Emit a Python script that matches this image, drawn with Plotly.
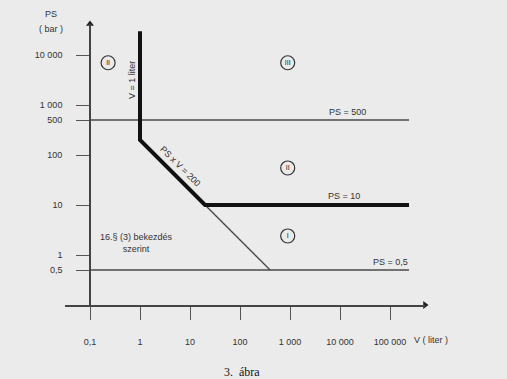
import math
import plotly.graph_objects as go

# ---- data ----
v_tick_vals = [0.1, 1, 10, 100, 1000, 10000, 100000]
v_tick_text = ["0,1", "1", "10", "100", "1 000", "10 000", "100 000"]
ps_tick_vals = [0.5, 1, 10, 100, 500, 1000, 10000]
ps_tick_text = ["0,5", "1", "10", "100", "500", "1 000", "10 000"]

# thick category boundary: V = 1 liter, PS x V = 200, PS = 10
boundary_v = [1, 1, 20, 240000]
boundary_ps = [30000, 200, 10, 10]
# thin continuation of PS x V = 200
diag_v = [20, 400]
diag_ps = [10, 0.5]
# PS = 500 and PS = 0,5 limits
limit_v = [0.1, 240000]
limit500_ps = [500, 500]
limit05_ps = [0.5, 0.5]

# category markers
cat_labels = ["II", "III", "II", "I"]
cat_v = [0.23, 900, 900, 900]
cat_ps = [7000, 7000, 55, 2.4]

x_range_log = [-1.5, 5.7]
y_range_log = [-1, 4.62]

BG = "#ebebeb"
TXT = "#333333"
FONT = "Arial, Liberation Sans, sans-serif"

fig = go.Figure()

thin = dict(color="#4a4a4a", width=1.4)
fig.add_trace(go.Scatter(x=limit_v, y=limit500_ps, mode="lines", line=thin, hoverinfo="skip"))
fig.add_trace(go.Scatter(x=limit_v, y=limit05_ps, mode="lines", line=thin, hoverinfo="skip"))
fig.add_trace(go.Scatter(x=diag_v, y=diag_ps, mode="lines", line=thin, hoverinfo="skip"))
fig.add_trace(go.Scatter(x=boundary_v, y=boundary_ps, mode="lines",
                         line=dict(color="#111111", width=4), hoverinfo="skip"))

# circled category numerals
fig.add_trace(go.Scatter(x=cat_v, y=cat_ps, mode="markers+text", text=cat_labels,
                         textposition="middle center",
                         textfont=dict(family=FONT, size=7, color="#222222"),
                         marker=dict(symbol="circle-open", size=14,
                                     line=dict(color="#333333", width=1.2), color="#333333"),
                         hoverinfo="skip", cliponaxis=False))

# axis arrowheads
fig.add_trace(go.Scatter(x=[0.1], y=[10 ** y_range_log[1]], mode="markers",
                         marker=dict(symbol="triangle-up", size=7, color="#222222"),
                         hoverinfo="skip", cliponaxis=False))
fig.add_trace(go.Scatter(x=[10 ** x_range_log[1]], y=[0.1], mode="markers",
                         marker=dict(symbol="triangle-right", size=7, color="#222222"),
                         hoverinfo="skip", cliponaxis=False))

lg = math.log10
ann_font = dict(family=FONT, size=9, color=TXT)
annotations = [
    dict(x=lg(14000), y=lg(limit500_ps[0]), xref="x", yref="y", text="PS = 500", showarrow=False,
         yanchor="bottom", yshift=1, font=ann_font),
    dict(x=lg(12000), y=lg(boundary_ps[-1]), xref="x", yref="y", text="PS = 10", showarrow=False,
         yanchor="bottom", yshift=2, font=ann_font),
    dict(x=lg(100000), y=lg(limit05_ps[0]), xref="x", yref="y", text="PS = 0,5", showarrow=False,
         yanchor="bottom", yshift=1, font=ann_font),
    dict(x=lg(1), y=lg(3162), xref="x", yref="y", text="V = 1 liter", showarrow=False,
         textangle=-90, xshift=-8, font=ann_font),
    dict(x=lg(4.57), y=lg(43.8), xref="x", yref="y", text="PS x V = 200", showarrow=False,
         textangle=45, xshift=7, yshift=7, font=ann_font),
    dict(x=lg(0.87), y=lg(1.74), xref="x", yref="y", text="16.§ (3) bekezdés<br>szerint",
         showarrow=False, font=ann_font),
]

L, R, T, B = 65, 82, 24, 74
W, H = 507, 379
pw, ph = W - L - R, H - T - B


def paper_ann(px, py, text, font):
    return dict(x=(px - L) / pw, y=(H - py - B) / ph, xref="paper", yref="paper",
                xanchor="center", yanchor="middle",
                text=text, showarrow=False, font=font)


annotations += [
    paper_ann(51, 14, "PS", ann_font),
    paper_ann(51, 29, "( bar )", ann_font),
    paper_ann(431, 340, "V ( liter )", ann_font),
    paper_ann(242, 372, "3.  ábra",
              dict(family="Liberation Serif, Times New Roman, serif", size=12, color="#111111")),
]

fig.update_layout(
    width=W, height=H,
    margin=dict(l=L, r=R, t=T, b=B, autoexpand=False),
    paper_bgcolor=BG, plot_bgcolor=BG,
    showlegend=False,
    annotations=annotations,
    xaxis=dict(type="log", range=x_range_log, showgrid=False, zeroline=False,
               automargin=False,
               showline=True, linecolor="#444444", linewidth=1.6,
               ticks="outside", ticklen=13, tickwidth=1.4, tickcolor="#555555",
               tickvals=v_tick_vals, ticktext=v_tick_text,
               tickfont=dict(family=FONT, size=9, color=TXT),
               ticklabelstandoff=14),
    yaxis=dict(type="log", range=y_range_log, showgrid=False, zeroline=False,
               automargin=False,
               anchor="free", position=(90 - L) / pw,
               showline=True, linecolor="#444444", linewidth=1.6,
               ticks="outside", ticklen=13, tickwidth=1.4, tickcolor="#555555",
               tickvals=ps_tick_vals, ticktext=ps_tick_text,
               tickfont=dict(family=FONT, size=9, color=TXT),
               ticklabelstandoff=12),
)

fig.write_html(
    "out.html",
    config={"displayModeBar": False},
    post_script="document.body.style.margin='0';document.body.style.background='%s';" % BG,
)
